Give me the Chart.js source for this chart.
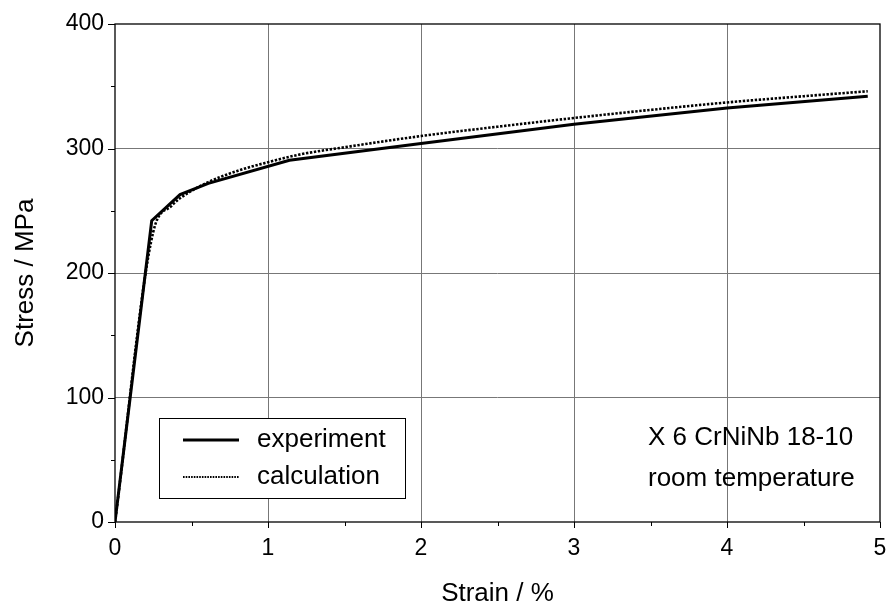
<!DOCTYPE html>
<html>
<head>
<meta charset="utf-8">
<script src="https://cdn.jsdelivr.net/npm/chart.js@4/dist/chart.umd.min.js"></script>
<style>
  html, body { margin: 0; padding: 0; background: #fff; }
  #wrap { width: 887px; height: 604px; }
</style>
</head>
<body>
<div id="wrap"><canvas id="chart"></canvas></div>
<script>
// strain in %, stress in MPa
const expStrain = [0, 0.24, 0.425, 0.61, 1.14, 2.0, 3.0, 4.0, 4.92];
const expStress = [0, 242, 263, 272, 290.5, 304, 319.5, 332.5, 342];
const calcStrain = [0, 0.25, 0.37, 0.425, 0.61, 0.8, 1.0, 1.2, 1.5, 2.0, 2.5, 3.0, 3.5, 4.0, 4.5, 4.92];
const calcStress = [0, 233, 254, 260, 273, 282, 289, 295, 301, 310, 317.5, 324.5, 331, 337, 342, 346];
const seriesNames = ['experiment', 'calculation'];
const noteLines = ['X 6 CrNiNb 18-10', 'room temperature'];

const FONT = '"Liberation Sans", Arial, sans-serif';

function toPoints(xs, ys) {
  return xs.map((x, i) => ({ x: x, y: ys[i] }));
}

// box, outward tick marks (long at labels, short in between), legend, note
const frame = {
  id: 'frame',
  afterDraw(chart) {
    const ctx = chart.ctx;
    const a = chart.chartArea;
    const sx = chart.scales.x, sy = chart.scales.y;
    ctx.save();
    ctx.strokeStyle = '#000';
    ctx.lineWidth = 1.3;
    ctx.strokeRect(a.left, a.top, a.right - a.left, a.bottom - a.top);
    ctx.lineWidth = 1;
    ctx.beginPath();
    sx.ticks.forEach(t => {
      const px = Math.round(sx.getPixelForValue(t.value)) + 0.5;
      const len = Number.isInteger(t.value) ? 6 : 4;
      ctx.moveTo(px, a.bottom);
      ctx.lineTo(px, a.bottom + len);
    });
    sy.ticks.forEach(t => {
      const py = Math.round(sy.getPixelForValue(t.value)) + 0.5;
      const len = t.value % 100 === 0 ? 7 : 4;
      ctx.moveTo(a.left, py);
      ctx.lineTo(a.left - len, py);
    });
    ctx.stroke();

    // legend box
    const lx = 159, ly = 418, lw = 246, lh = 80;
    ctx.fillStyle = '#fff';
    ctx.fillRect(lx, ly, lw, lh);
    ctx.strokeStyle = '#000';
    ctx.lineWidth = 1;
    ctx.strokeRect(lx + 0.5, ly + 0.5, lw, lh);
    chart.data.datasets.forEach((ds, i) => {
      const yy = ly + 22 + i * 37;
      ctx.save();
      ctx.strokeStyle = ds.borderColor;
      ctx.lineWidth = i === 0 ? 3 : 1.8;
      ctx.setLineDash(i === 0 ? [] : [1.6, 1.1]);
      ctx.beginPath();
      ctx.moveTo(183, yy);
      ctx.lineTo(239, yy);
      ctx.stroke();
      ctx.restore();
      ctx.fillStyle = '#000';
      ctx.font = '26px ' + FONT;
      ctx.textBaseline = 'middle';
      ctx.textAlign = 'left';
      ctx.fillText(ds.label, 257, yy);
    });

    // material note
    ctx.fillStyle = '#000';
    ctx.font = '26px ' + FONT;
    ctx.textBaseline = 'middle';
    ctx.textAlign = 'left';
    noteLines.forEach((s, i) => ctx.fillText(s, 648, 438 + i * 41));
    ctx.restore();
  }
};

new Chart(document.getElementById('chart'), {
  type: 'line',
  data: {
    datasets: [
      {
        label: seriesNames[0],
        data: toPoints(expStrain, expStress),
        borderColor: '#000',
        borderWidth: 3,
        pointRadius: 0,
        tension: 0,
        order: 1
      },
      {
        label: seriesNames[1],
        data: toPoints(calcStrain, calcStress),
        borderColor: '#000',
        borderWidth: 2.6,
        borderDash: [2.4, 1.6],
        pointRadius: 0,
        cubicInterpolationMode: 'monotone',
        order: 0
      }
    ]
  },
  options: {
    responsive: true,
    maintainAspectRatio: false,
    animation: false,
    events: [],
    layout: { padding: { top: 24, right: 7, left: 0, bottom: 0 } },
    plugins: {
      legend: { display: false },
      tooltip: { enabled: false }
    },
    scales: {
      x: {
        type: 'linear',
        min: 0,
        max: 5,
        border: { display: false },
        grid: {
          drawTicks: false,
          lineWidth: 1,
          color: c => (Number.isInteger(c.tick.value) && c.tick.value > 0 && c.tick.value < 5) ? '#777' : 'rgba(0,0,0,0)'
        },
        ticks: {
          stepSize: 0.5,
          padding: 13,
          maxRotation: 0,
          autoSkip: false,
          color: '#000',
          font: { family: FONT, size: 23 },
          callback: v => Number.isInteger(v) ? String(v) : ''
        },
        title: {
          display: true,
          text: 'Strain / %',
          color: '#000',
          font: { family: FONT, size: 26, lineHeight: 1 },
          padding: { top: 10, bottom: -3 }
        },
        afterFit: s => { s.height = 82; s.paddingRight = 0; }
      },
      y: {
        type: 'linear',
        min: 0,
        max: 400,
        border: { display: false },
        grid: {
          drawTicks: false,
          lineWidth: 1,
          color: c => (c.tick.value % 100 === 0 && c.tick.value > 0 && c.tick.value < 400) ? '#777' : 'rgba(0,0,0,0)'
        },
        ticks: {
          stepSize: 50,
          padding: 11,
          autoSkip: false,
          color: '#000',
          font: { family: FONT, size: 23 },
          callback: v => v % 100 === 0 ? String(v) : ''
        },
        title: {
          display: true,
          text: 'Stress / MPa',
          color: '#000',
          font: { family: FONT, size: 26, lineHeight: 1 },
          padding: { top: 13, bottom: 6 }
        },
        afterFit: s => { s.width = 115; s.paddingTop = 0; s.paddingBottom = 0; }
      }
    }
  },
  plugins: [frame]
});
</script>
</body>
</html>
